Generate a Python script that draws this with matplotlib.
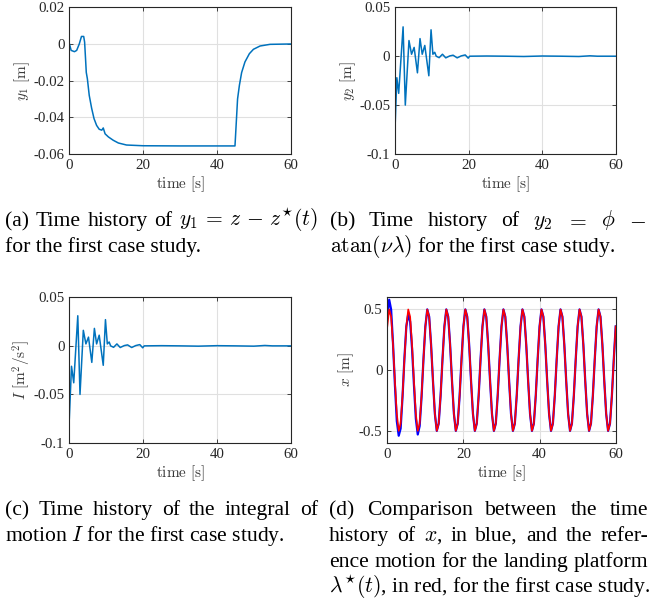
import matplotlib
matplotlib.use('Agg')
import matplotlib.pyplot as plt

plt.rcParams['mathtext.fontset'] = 'cm'
plt.rcParams['font.family'] = ['Liberation Serif', 'DejaVu Serif']
plt.rcParams['axes.unicode_minus'] = False

# ---------------- data ----------------
x_ticks = [0, 20, 40, 60]
x_tick_labels = ['0', '20', '40', '60']

# (a) y1
t_a = [0, 0.5, 1.4, 2.0, 2.7, 3.3, 3.9, 4.15, 4.4, 4.6, 4.9, 5.4, 6.05, 6.7, 7.4, 8.1,
       8.8, 9.2, 9.7, 10.6, 11.9, 13.3, 15.5, 20, 30, 40, 44.9, 45.0, 45.3, 45.6,
       46.1, 46.7, 47.6, 48.8, 49.9, 51.7, 54.4, 60]
y1_vals = [0.0003, -0.0035, -0.0042, -0.0035, 0.0, 0.0041, 0.0041, 0.001, -0.008, -0.0155,
           -0.019, -0.028, -0.035, -0.0407, -0.0444, -0.0465,
           -0.047, -0.0458, -0.049, -0.0507, -0.0525, -0.054, -0.0551, -0.0555, -0.0556, -0.0556,
           -0.0556, -0.052, -0.041, -0.030,
           -0.0225, -0.0156, -0.0098, -0.0053, -0.0029, -0.0011, -0.0002, 0.0]
a_yticks = [-0.06, -0.04, -0.02, 0, 0.02]
a_yticklabels = ['-0.06', '-0.04', '-0.02', '0', '0.02']

# (b) y2
t_b = [0, 0.5, 1.0, 2.2, 2.8, 3.8, 4.5, 5.2, 6.1, 6.8, 7.4, 8.1, 9.2, 9.8, 10.3, 10.8,
       11.2, 12.0, 12.9, 13.8, 14.9, 15.8, 16.9, 18.0, 19.1, 19.9, 20.3, 25, 30, 35,
       40, 45, 50, 53, 55, 60]
y2_vals = [-0.075, -0.022, -0.038, 0.030, -0.050, 0.016, 0.002, 0.009, -0.017, 0.018, 0.002,
           0.011, -0.020, 0.027, 0.002, 0.004,
           0.0, -0.0015, 0.002, -0.0017, 0.0003, 0.001, -0.0017, 0.0003, 0.0013, -0.002,
           0.0, 0.0002, 0.0, -0.0003,
           0.0002, 0.0, -0.0003, 0.0004, 0.0, 0.0]
b_yticks = [-0.1, -0.05, 0, 0.05]
b_yticklabels = ['-0.1', '-0.05', '0', '0.05']

# (c) I
t_c = [0, 0.6, 1.2, 2.3, 2.9, 3.8, 4.5, 5.2, 6.1, 6.8, 7.4, 8.1, 9.2, 9.8, 10.3, 10.8,
       11.2, 12.0, 12.9, 13.8, 14.9, 15.8, 16.9, 18.0, 19.1, 19.9, 20.3, 25, 30, 35,
       40, 45, 50, 53, 55, 60]
I_vals = [-0.075, -0.021, -0.038, 0.031, -0.050, 0.016, 0.002, 0.009, -0.017, 0.018, 0.002,
          0.011, -0.020, 0.027, 0.002, 0.004,
          0.0, -0.0015, 0.002, -0.0017, 0.0003, 0.001, -0.0017, 0.0003, 0.0013, -0.002,
          0.0, 0.0002, 0.0, -0.0003,
          0.0002, 0.0, -0.0003, 0.0004, 0.0, 0.0]
c_yticks = [-0.1, -0.05, 0, 0.05]
c_yticklabels = ['-0.1', '-0.05', '0', '0.05']

# (d) x (blue) and lambda* (red)
t_d = [0.0, 0.5, 1.0, 1.5, 2.0, 2.5, 3.0, 3.5, 4.0, 4.5,
       5.0, 5.5, 6.0, 6.5, 7.0, 7.5, 8.0, 8.5, 9.0, 9.5,
       10.0, 10.5, 11.0, 11.5, 12.0, 12.5, 13.0, 13.5, 14.0, 14.5,
       15.0, 15.5, 16.0, 16.5, 17.0, 17.5, 18.0, 18.5, 19.0, 19.5,
       20.0, 20.5, 21.0, 21.5, 22.0, 22.5, 23.0, 23.5, 24.0, 24.5,
       25.0, 25.5, 26.0, 26.5, 27.0, 27.5, 28.0, 28.5, 29.0, 29.5,
       30.0, 30.5, 31.0, 31.5, 32.0, 32.5, 33.0, 33.5, 34.0, 34.5,
       35.0, 35.5, 36.0, 36.5, 37.0, 37.5, 38.0, 38.5, 39.0, 39.5,
       40.0, 40.5, 41.0, 41.5, 42.0, 42.5, 43.0, 43.5, 44.0, 44.5,
       45.0, 45.5, 46.0, 46.5, 47.0, 47.5, 48.0, 48.5, 49.0, 49.5,
       50.0, 50.5, 51.0, 51.5, 52.0, 52.5, 53.0, 53.5, 54.0, 54.5,
       55.0, 55.5, 56.0, 56.5, 57.0, 57.5, 58.0, 58.5, 59.0, 59.5,
       60.0]
lam_vals = [0.36, 0.50, 0.44, 0.21, -0.09, -0.36, -0.50, -0.44, -0.21, 0.09,
            0.36, 0.50, 0.44, 0.21, -0.09, -0.36, -0.50, -0.44, -0.21, 0.09,
            0.36, 0.50, 0.44, 0.21, -0.09, -0.36, -0.50, -0.44, -0.21, 0.09,
            0.36, 0.50, 0.44, 0.21, -0.09, -0.36, -0.50, -0.44, -0.21, 0.09,
            0.36, 0.50, 0.44, 0.21, -0.09, -0.36, -0.50, -0.44, -0.21, 0.09,
            0.36, 0.50, 0.44, 0.21, -0.09, -0.36, -0.50, -0.44, -0.21, 0.09,
            0.36, 0.50, 0.44, 0.21, -0.09, -0.36, -0.50, -0.44, -0.21, 0.09,
            0.36, 0.50, 0.44, 0.21, -0.09, -0.36, -0.50, -0.44, -0.21, 0.09,
            0.36, 0.50, 0.44, 0.21, -0.09, -0.36, -0.50, -0.44, -0.21, 0.09,
            0.36, 0.50, 0.44, 0.21, -0.09, -0.36, -0.50, -0.44, -0.21, 0.09,
            0.36, 0.50, 0.44, 0.21, -0.09, -0.36, -0.50, -0.44, -0.21, 0.09,
            0.36, 0.50, 0.44, 0.21, -0.09, -0.36, -0.50, -0.44, -0.21, 0.09,
            0.36]
x_vals = [0.45, 0.58, 0.50, 0.22, -0.12, -0.42, -0.54, -0.48, -0.22, 0.10,
          0.36, 0.46, 0.40, 0.18, -0.12, -0.40, -0.53, -0.46, -0.22, 0.09,
          0.36, 0.50, 0.44, 0.21, -0.09, -0.36, -0.50, -0.44, -0.21, 0.09,
          0.36, 0.50, 0.44, 0.21, -0.09, -0.36, -0.50, -0.44, -0.21, 0.09,
          0.36, 0.50, 0.44, 0.21, -0.09, -0.36, -0.50, -0.44, -0.21, 0.09,
          0.36, 0.50, 0.44, 0.21, -0.09, -0.36, -0.50, -0.44, -0.21, 0.09,
          0.36, 0.50, 0.44, 0.21, -0.09, -0.36, -0.50, -0.44, -0.21, 0.09,
          0.36, 0.50, 0.44, 0.21, -0.09, -0.36, -0.50, -0.44, -0.21, 0.09,
          0.36, 0.50, 0.44, 0.21, -0.09, -0.36, -0.50, -0.44, -0.21, 0.09,
          0.36, 0.50, 0.44, 0.21, -0.09, -0.36, -0.50, -0.44, -0.21, 0.09,
          0.36, 0.50, 0.44, 0.21, -0.09, -0.36, -0.50, -0.44, -0.21, 0.09,
          0.36, 0.50, 0.44, 0.21, -0.09, -0.36, -0.50, -0.44, -0.21, 0.09,
          0.36]
d_yticks = [-0.5, 0, 0.5]
d_yticklabels = ['-0.5', '0', '0.5']

# ---------------- figure ----------------
W, H = 667, 600
fig = plt.figure(figsize=(W / 100, H / 100), dpi=100)
AX_COL = '#262626'
LINE_BLUE = '#0072BD'


def add_axes(l, t, r, b):
    return fig.add_axes([l / W, 1 - b / H, (r - l) / W, (b - t) / H])


def style(ax, ylim, yticks, yticklabels, ylabel, ylab_x, xlab_y):
    ax.set_xlim(0, 60)
    ax.set_ylim(*ylim)
    ax.set_xticks(x_ticks)
    ax.set_xticklabels(x_tick_labels)
    ax.set_yticks(yticks)
    ax.set_yticklabels(yticklabels)
    ax.grid(True, color='#e0e0e0', linewidth=0.8)
    ax.set_axisbelow(True)
    ax.tick_params(direction='in', top=True, right=True, length=3, width=0.6,
                   colors=AX_COL, labelsize=10.7, pad=3.5)
    for s in ax.spines.values():
        s.set_color(AX_COL)
        s.set_linewidth(0.8)
    ax.set_xlabel(r'$\mathrm{time\ [s]}$', fontsize=11, color='#3a3a3a')
    ax.xaxis.set_label_coords(0.5, xlab_y)
    ax.xaxis.label.set_va('center')
    ax.set_ylabel(ylabel, fontsize=11, color='#3a3a3a')
    ax.yaxis.set_label_coords(ylab_x, 0.5)
    ax.yaxis.label.set_va('center')
    ax.yaxis.label.set_ha('center')


axA = add_axes(69.3, 7.3, 290.7, 154)
axB = add_axes(395, 7.3, 615.7, 154)
axC = add_axes(69.3, 297.3, 290.7, 443)
axD = add_axes(387.3, 297.3, 615.7, 443)

axA.plot(t_a, y1_vals, color=LINE_BLUE, linewidth=1.1)
style(axA, (-0.06, 0.02), a_yticks, a_yticklabels, r'$y_1\ [\mathrm{m}]$', -0.214, -0.205)

axB.plot(t_b, y2_vals, color=LINE_BLUE, linewidth=1.1)
style(axB, (-0.1, 0.05), b_yticks, b_yticklabels, r'$y_2\ [\mathrm{m}]$', -0.213, -0.205)

axC.plot(t_c, I_vals, color=LINE_BLUE, linewidth=1.1)
style(axC, (-0.1, 0.05), c_yticks, c_yticklabels,
      r'$I\ [\mathrm{m}^2/\mathrm{s}^2]$', -0.214, -0.206)

axD.plot(t_d, x_vals, color='#0000ff', linewidth=1.6)
axD.plot(t_d, lam_vals, color='#ff0000', linewidth=1.2)
style(axD, (-0.6, 0.6), d_yticks, d_yticklabels, r'$x\ [\mathrm{m}]$', -0.181, -0.206)

# ---------------- captions ----------------
renderer = fig.canvas.get_renderer()
probe = fig.text(0, 0, 'for the first case study.', fontsize=10)
w10 = probe.get_window_extent(renderer).width
probe.remove()
cap_fs = 10 * 196 / w10


def justify(words, x0, x1, ybase):
    txts = [fig.text(0, 1 - ybase / H, w, fontsize=cap_fs, va='baseline', ha='left')
            for w in words]
    widths = [t.get_window_extent(renderer).width for t in txts]
    gap = (x1 - x0 - sum(widths)) / (len(words) - 1)
    x = x0
    for t, w in zip(txts, widths):
        t.set_x(x / W)
        x += w + gap


def left(text, x0, ybase):
    fig.text(x0 / W, 1 - ybase / H, text, fontsize=cap_fs, va='baseline', ha='left')


justify(['(a)', 'Time', 'history', 'of', r'$y_1 \,=\, z \,-\, z^{\star}(t)$'], 5, 318, 226)
left('for the first case study.', 5, 252)
justify(['(b)', 'Time', 'history', 'of', r'$y_2$', r'$=$', r'$\phi$', r'$-$'], 330, 646, 226)
left(r'$\mathrm{atan}(\nu\lambda)$ for the first case study.', 330, 252)

justify(['(c)', 'Time', 'history', 'of', 'the', 'integral', 'of'], 5, 318, 515)
left(r'motion $I$ for the first case study.', 5, 541)
justify(['(d)', 'Comparison', 'between', 'the', 'time'], 329, 648, 515)
justify(['history', 'of', r'$x$,', 'in', 'blue,', 'and', 'the', 'refer-'], 329, 648, 541)
justify(['ence', 'motion', 'for', 'the', 'landing', 'platform'], 329, 648, 567)
left(r'$\lambda^{\star}(t)$, in red, for the first case study.', 329, 593)

fig.savefig('out.png', dpi=100)
